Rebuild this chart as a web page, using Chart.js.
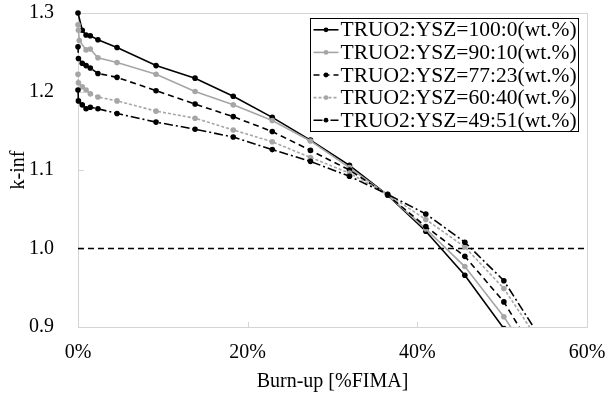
<!DOCTYPE html>
<html>
<head>
<meta charset="utf-8">
<script src="https://cdn.jsdelivr.net/npm/chart.js@4/dist/chart.umd.min.js"></script>
<style>
html,body{margin:0;padding:0;background:#fff;}
#wrap{width:608px;height:396px;}
</style>
</head>
<body>
<div id="wrap"><canvas id="c" width="608" height="396"></canvas></div>
<script>
// Burn-up [%FIMA] sample points
const burnup100 = [0, 0.5, 0.95, 1.45, 2.35, 4.6, 9.2, 13.8, 18.3, 22.9, 27.4, 32, 36.5, 41, 45.6, 50.2, 54.7];
const burnupMix = [0, 0.05, 0.5, 0.95, 1.45, 2.35, 4.6, 9.2, 13.8, 18.3, 22.9, 27.4, 32, 36.5, 41, 45.6, 50.2, 54.7];
const burnup90 = [0, 0.05, 0.15, 0.95, 1.45, 2.35, 4.6, 9.2, 13.8, 18.3, 22.9, 27.4, 32, 36.5, 41, 45.6, 50.2, 54.7];

// k-inf values
const kinf100_0 = [1.300, 1.278, 1.272, 1.271, 1.266, 1.256, 1.233, 1.217, 1.194, 1.167, 1.138, 1.106, 1.068, 1.022, 0.966, 0.898, 0.83];
const kinf90_10 = [1.285, 1.278, 1.265, 1.253, 1.254, 1.243, 1.237, 1.222, 1.200, 1.183, 1.163, 1.137, 1.103, 1.068, 1.025, 0.977, 0.913, 0.84];
const kinf77_23 = [1.257, 1.242, 1.236, 1.233, 1.230, 1.223, 1.218, 1.201, 1.184, 1.168, 1.149, 1.125, 1.100, 1.068, 1.028, 0.990, 0.932, 0.852];
const kinf60_40 = [1.222, 1.211, 1.206, 1.202, 1.197, 1.193, 1.188, 1.175, 1.166, 1.151, 1.136, 1.116, 1.096, 1.069, 1.037, 1.002, 0.949, 0.876];
const kinf49_51 = [1.202, 1.188, 1.183, 1.178, 1.180, 1.178, 1.172, 1.161, 1.152, 1.142, 1.126, 1.111, 1.092, 1.069, 1.044, 1.008, 0.959, 0.883];

const seriesLabels = ['TRUO2:YSZ=100:0(wt.%)', 'TRUO2:YSZ=90:10(wt.%)', 'TRUO2:YSZ=77:23(wt.%)', 'TRUO2:YSZ=60:40(wt.%)', 'TRUO2:YSZ=49:51(wt.%)'];
const refValue = 1.0;
const xRange = [0, 60];
const yTicks = [0.9, 1.0, 1.1, 1.2, 1.3];
const xTicks = [0, 20, 40, 60];

const pts = (xs, ys) => xs.map((x, i) => ({x: x, y: ys[i]}));
const FONT = "'Liberation Serif', 'Times New Roman', serif";
const GRAY = '#a6a6a6';
const BORDER = '#d4d4d4';

const styles = [
  {c: '#000', dash: []},
  {c: GRAY, dash: []},
  {c: '#000', dash: [6, 4]},
  {c: GRAY, dash: [3, 2]},
  {c: '#000', dash: [9, 3, 2, 3]}
];
const seriesData = [pts(burnup100, kinf100_0), pts(burnup90, kinf90_10), pts(burnupMix, kinf77_23), pts(burnupMix, kinf60_40), pts(burnupMix, kinf49_51)];

const datasets = seriesData.map((d, i) => ({
  label: seriesLabels[i],
  data: d,
  borderColor: styles[i].c,
  backgroundColor: styles[i].c,
  borderDash: styles[i].dash,
  borderWidth: 1.6,
  pointRadius: 2.8,
  pointBorderWidth: 0,
  pointBackgroundColor: styles[i].c,
  tension: 0,
  clip: {left: 6, top: 6, right: 0, bottom: 0},
  order: 5 - i
}));
datasets.push({
  label: 'ref',
  data: [{x: xRange[0], y: refValue}, {x: xRange[1], y: refValue}],
  borderColor: '#000',
  borderDash: [6, 4],
  borderWidth: 1.6,
  pointRadius: 0,
  order: 10
});

const framePlugin = {
  id: 'frame',
  beforeDatasetsDraw(chart) {
    const {ctx, chartArea: a, scales} = chart;
    ctx.save();
    ctx.strokeStyle = BORDER;
    ctx.lineWidth = 1;
    ctx.strokeRect(Math.round(a.left) + 0.5, Math.round(a.top) + 0.5, Math.round(a.right - a.left), Math.round(a.bottom - a.top));
    // inside tick marks
    xTicks.forEach(v => {
      if (v <= xRange[0] || v >= xRange[1]) return;
      const px = Math.round(scales.x.getPixelForValue(v)) + 0.5;
      ctx.beginPath(); ctx.moveTo(px, a.bottom); ctx.lineTo(px, a.bottom - 5); ctx.stroke();
    });
    yTicks.forEach(v => {
      if (v <= yTicks[0] || v >= yTicks[yTicks.length - 1]) return;
      const py = Math.round(scales.y.getPixelForValue(v)) + 0.5;
      ctx.beginPath(); ctx.moveTo(a.left, py); ctx.lineTo(a.left + 6, py); ctx.stroke();
    });
    ctx.restore();
  },
  afterDraw(chart) {
    const {ctx} = chart;
    const box = {x: 310.5, y: 18.5, w: 268, h: 113};
    ctx.save();
    ctx.fillStyle = '#fff';
    ctx.fillRect(box.x, box.y, box.w, box.h);
    ctx.strokeStyle = '#000';
    ctx.lineWidth = 1;
    ctx.strokeRect(box.x, box.y, box.w, box.h);
    const rowH = box.h / 5;
    chart.data.datasets.slice(0, 5).forEach((ds, i) => {
      const cy = box.y + rowH * (i + 0.5);
      ctx.strokeStyle = ds.borderColor;
      ctx.setLineDash(ds.borderDash);
      ctx.lineWidth = 1.6;
      ctx.beginPath(); ctx.moveTo(box.x + 3, cy); ctx.lineTo(box.x + 28, cy); ctx.stroke();
      ctx.setLineDash([]);
      ctx.fillStyle = ds.borderColor;
      ctx.beginPath(); ctx.arc(box.x + 15.5, cy, 2.4, 0, Math.PI * 2); ctx.fill();
      ctx.fillStyle = '#000';
      ctx.font = '21.5px ' + FONT;
      ctx.textBaseline = 'middle';
      ctx.textAlign = 'left';
      ctx.fillText(ds.label, box.x + 30, cy + 1);
    });
    ctx.restore();
  }
};

new Chart(document.getElementById('c'), {
  type: 'line',
  data: {datasets: datasets},
  options: {
    responsive: false,
    animation: false,
    devicePixelRatio: 1,
    layout: {padding: {top: 13, right: 21, left: 0, bottom: 0}},
    plugins: {legend: {display: false}, tooltip: {enabled: false}},
    scales: {
      x: {
        type: 'linear',
        min: xRange[0], max: xRange[1],
        afterFit(s) { s.height = 69; s.paddingLeft = 0; s.paddingRight = 0; },
        afterBuildTicks(s) { s.ticks = xTicks.map(v => ({value: v})); },
        grid: {display: false, drawTicks: false},
        border: {display: false},
        ticks: {color: '#000', font: {family: FONT, size: 20}, padding: 14, maxRotation: 0, callback: v => v + '%'},
        title: {display: true, text: 'Burn-up [%FIMA]', color: '#000', font: {family: FONT, size: 20}, padding: {top: 0, bottom: 2}}
      },
      y: {
        min: yTicks[0], max: yTicks[yTicks.length - 1],
        afterFit(s) { s.width = 78; s.paddingTop = 0; s.paddingBottom = 0; },
        afterBuildTicks(s) { s.ticks = yTicks.map(v => ({value: v})); },
        grid: {display: false, drawTicks: false},
        border: {display: false},
        ticks: {color: '#000', font: {family: FONT, size: 20}, padding: 24, callback: v => Number(v).toFixed(1)},
        title: {display: true, text: 'k-inf', color: '#000', font: {family: FONT, size: 20}, padding: {top: 7, bottom: 0}}
      }
    }
  },
  plugins: [framePlugin]
});
</script>
</body>
</html>
